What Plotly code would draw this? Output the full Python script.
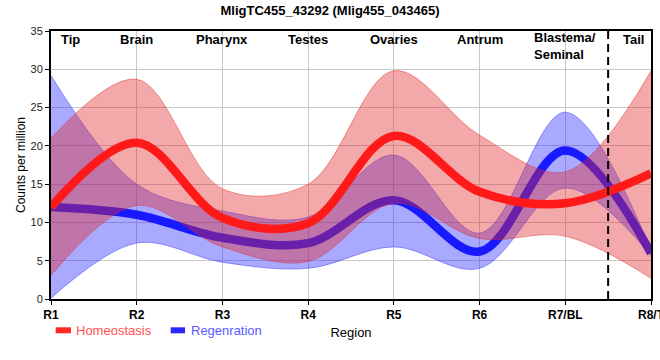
import plotly.graph_objects as go

# ---- data ----
regions = ["R1", "R2", "R3", "R4", "R5", "R6", "R7/BL", "R8/T"]
tissues = ["Tip", "Brain", "Pharynx", "Testes", "Ovaries", "Antrum", "Blastema/<br>Seminal", "Tail"]

homeo_mean = [12.0, 20.4, 10.6, 9.9, 21.3, 14.0, 12.5, 16.4]
homeo_upper = [21.0, 28.7, 14.4, 15.0, 29.8, 21.4, 16.6, 29.8]
homeo_lower = [3.1, 12.2, 6.8, 4.9, 12.5, 7.9, 8.2, 2.7]

regen_mean = [12.0, 11.0, 8.0, 7.3, 12.9, 6.2, 19.4, 6.0]
regen_upper = [29.2, 15.0, 11.5, 10.7, 18.8, 8.6, 24.4, 6.3]
regen_lower = [0.1, 7.3, 4.8, 4.0, 6.8, 4.0, 14.5, 5.7]

xpos = list(range(1, len(regions) + 1))

FONT = "Liberation Sans, Arial, sans-serif"
SM = 1.0

fig = go.Figure()

# Regeneration band
fig.add_trace(go.Scatter(x=xpos, y=regen_lower, mode="lines",
                         line=dict(color="rgba(40,40,255,0.45)", width=1, shape="spline", smoothing=SM),
                         showlegend=False, hoverinfo="skip"))
fig.add_trace(go.Scatter(x=xpos, y=regen_upper, mode="lines", fill="tonexty",
                         fillcolor="rgba(40,40,255,0.4)",
                         line=dict(color="rgba(40,40,255,0.45)", width=1, shape="spline", smoothing=SM),
                         showlegend=False, hoverinfo="skip"))
# Regeneration mean
fig.add_trace(go.Scatter(x=xpos, y=regen_mean, mode="lines", name="Regenration",
                         line=dict(color="rgb(25,25,255)", width=8.5, shape="spline", smoothing=SM),
                         showlegend=False))
# Homeostasis band
fig.add_trace(go.Scatter(x=xpos, y=homeo_lower, mode="lines",
                         line=dict(color="rgba(225,40,40,0.45)", width=1, shape="spline", smoothing=SM),
                         showlegend=False, hoverinfo="skip"))
fig.add_trace(go.Scatter(x=xpos, y=homeo_upper, mode="lines", fill="tonexty",
                         fillcolor="rgba(225,40,40,0.4)",
                         line=dict(color="rgba(225,40,40,0.45)", width=1, shape="spline", smoothing=SM),
                         showlegend=False, hoverinfo="skip"))
# Homeostasis mean
fig.add_trace(go.Scatter(x=xpos, y=homeo_mean, mode="lines", name="Homeostasis",
                         line=dict(color="rgb(255,25,25)", width=8.5, shape="spline", smoothing=SM),
                         showlegend=False))

# Dashed boundary between R7 and R8
fig.add_shape(type="line", xref="x", yref="paper", x0=7.5, x1=7.5, y0=0, y1=1,
              line=dict(color="black", width=2, dash="8px,5px"))

# Tissue labels along the top
annots = []
for i, t in enumerate(tissues):
    a = dict(x=xpos[i], y=1, xref="x", yref="paper", text=f"<b>{t}</b>", showarrow=False,
             yanchor="top", xanchor="center", align="left",
             font=dict(family=FONT, size=13, color="black"), yshift=1)
    if i == 0:
        a.update(xanchor="left", xshift=8)
    if i == len(tissues) - 1:
        a.update(xanchor="right", xshift=-5)
    if "<br>" in t:
        a.update(yshift=3)
    annots.append(a)

# Manual legend
legend_items = [("Homeostasis", "rgb(255,40,40)", "rgb(255,80,80)", 0.0078, 0.0333, 0.0388),
                ("Regenration", "rgb(40,40,255)", "rgb(90,90,255)", 0.1995, 0.2233, 0.2305)]
for name, sw, tc, x0, x1, tx in legend_items:
    fig.add_shape(type="rect", xref="paper", yref="paper", x0=x0, x1=x1, y0=-0.1056, y1=-0.128,
                  fillcolor=sw, line=dict(width=0))
    annots.append(dict(x=tx, y=-0.1157, xref="paper", yref="paper", text=name, showarrow=False,
                       xanchor="left", yanchor="middle", font=dict(family=FONT, size=13, color=tc)))

fig.update_layout(
    width=660, height=360,
    margin=dict(l=51, r=9, t=31, b=61),
    paper_bgcolor="white", plot_bgcolor="white",
    title=dict(text="<b>MligTC455_43292 (Mlig455_043465)</b>", x=0.5, xanchor="center",
               y=0.985, yanchor="top", font=dict(family=FONT, size=13, color="black")),
    font=dict(family=FONT, color="black"),
    annotations=annots,
    showlegend=False,
)
fig.update_xaxes(range=[1, 8], tickmode="array", tickvals=xpos,
                 ticktext=[f"<b>{r}</b>" for r in regions],
                 tickfont=dict(family=FONT, size=12, color="black"),
                 ticklabeloverflow="allow",
                 showgrid=True, gridcolor="#c8c8c8", gridwidth=1,
                 showline=True, linecolor="black", linewidth=2, mirror=True,
                 ticks="outside", ticklen=4, tickcolor="black",
                 title=dict(text="Region", font=dict(family=FONT, size=13, color="black"), standoff=6),
                 zeroline=False, automargin=False)
fig.update_yaxes(range=[0, 35], dtick=5,
                 tickfont=dict(family=FONT, size=11, color="#222"),
                 showgrid=True, gridcolor="#c8c8c8", gridwidth=1,
                 showline=True, linecolor="black", linewidth=2, mirror=True,
                 ticks="outside", ticklen=4, tickcolor="black",
                 title=dict(text="Counts per million", font=dict(family=FONT, size=12, color="black"), standoff=2),
                 zeroline=False, automargin=False)

fig.write_html("out.html", config={"displayModeBar": False},
               post_script="document.body.style.margin='0px';")
